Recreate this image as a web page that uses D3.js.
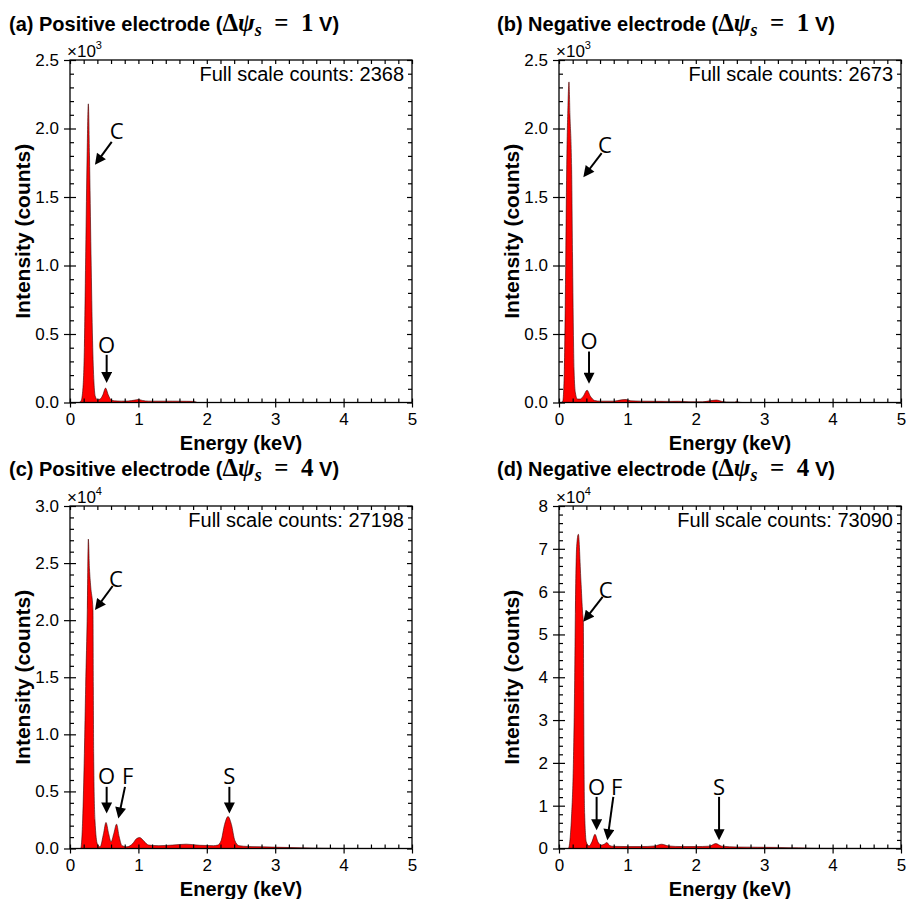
<!DOCTYPE html>
<html>
<head>
<meta charset="utf-8">
<script src="https://cdn.jsdelivr.net/npm/d3@7"></script>
<style>
  body { margin: 0; background: #fff; }
  svg { display: block; }
  text { font-family: "Liberation Sans", Arial, sans-serif; fill: #000; }
</style>
</head>
<body>
<svg width="906" height="899"></svg>
<script>
// ---- data ----
const panelTags = ["(a)", "(b)", "(c)", "(d)"];
const electrodes = ["Positive", "Negative", "Positive", "Negative"];
const voltages = [1, 1, 4, 4];
const fullScale = [2368, 2673, 27198, 73090];
const yMax = [2500, 2500, 30000, 80000];
const yExp = [3, 3, 4, 4];
const yMajorStep = [500, 500, 5000, 10000];
const yMinorStep = [100, 100, 1000, 2000];
const xTicks = [0, 1, 2, 3, 4, 5];

const energyA = [0, 0.13, 0.16, 0.185, 0.21, 0.23, 0.25, 0.268, 0.285, 0.307, 0.33, 0.35, 0.37, 0.40, 0.44, 0.48, 0.52, 0.56, 0.60, 0.65, 0.75, 0.85, 0.95, 1.0, 1.06, 1.15, 1.3, 1.5, 1.7, 1.82, 1.86, 5];
const countsA = [0, 0, 10, 80, 400, 1100, 1800, 2180, 1800, 1090, 450, 150, 45, 20, 25, 55, 105, 55, 20, 12, 10, 11, 18, 22, 15, 10, 10, 10, 9, 8, 0, 0];

const energyB = [0, 0.03, 0.055, 0.078, 0.097, 0.112, 0.13, 0.146, 0.16, 0.185, 0.20, 0.22, 0.24, 0.27, 0.31, 0.36, 0.41, 0.46, 0.52, 0.6, 0.8, 0.92, 0.98, 1.05, 1.2, 1.4, 1.6, 1.75, 1.9, 2.1, 2.2, 2.3, 2.4, 2.5, 2.57, 2.6, 2.63, 2.68, 5];
const countsB = [0, 0, 10, 238, 968, 1698, 2150, 2340, 2100, 1698, 968, 238, 70, 25, 25, 50, 90, 45, 15, 10, 10, 20, 22, 12, 10, 9, 8, 9, 5, 5, 12, 18, 6, 3, 3, 10, 3, 0, 0];

const energyC = [0, 0.13, 0.156, 0.185, 0.21, 0.229, 0.253, 0.268, 0.285, 0.302, 0.336, 0.341, 0.346, 0.365, 0.40, 0.44, 0.49, 0.526, 0.565, 0.60, 0.64, 0.68, 0.72, 0.76, 0.83, 0.92, 0.97, 1.02, 1.08, 1.15, 1.3, 1.5, 1.7, 1.9, 2.1, 2.16, 2.21, 2.26, 2.31, 2.36, 2.41, 2.47, 2.6, 2.8, 3.1, 3.4, 3.7, 4.0, 5];
const countsC = [0, 0, 0, 2500, 8300, 14200, 20900, 27100, 24500, 23000, 20900, 14200, 8300, 2500, 400, 150, 1300, 2280, 1300, 580, 1300, 2130, 1000, 250, 150, 450, 850, 960, 650, 300, 250, 300, 380, 280, 250, 300, 700, 2100, 2800, 2100, 700, 250, 180, 150, 100, 60, 30, 10, 0];

const energyD = [0, 0.10, 0.136, 0.185, 0.21, 0.229, 0.239, 0.258, 0.283, 0.32, 0.346, 0.356, 0.36, 0.366, 0.375, 0.40, 0.44, 0.48, 0.526, 0.57, 0.62, 0.66, 0.70, 0.74, 0.8, 1.0, 1.2, 1.4, 1.5, 1.6, 1.8, 2.0, 2.2, 2.29, 2.38, 2.6, 2.9, 3.2, 3.5, 3.8, 5];
const countsD = [0, 0, 0, 8100, 19800, 39300, 54900, 70500, 73400, 62700, 54900, 53000, 39300, 19800, 8100, 1500, 600, 1500, 3300, 1500, 800, 1000, 1400, 700, 500, 450, 450, 600, 1000, 600, 450, 450, 550, 1150, 550, 350, 300, 250, 150, 50, 0];

const energies = [energyA, energyB, energyC, energyD];
const counts = [countsA, countsB, countsC, countsD];

// peak labels: [element, text keV, text counts, arrow start keV, counts, arrow tip keV, counts]
const peaksA = [["C", 0.682, 1978, 0.61, 1903, 0.365, 1735], ["O", 0.536, 421, 0.536, 348, 0.536, 142]];
const peaksB = [["C", 0.673, 1881, 0.624, 1820, 0.356, 1645], ["O", 0.439, 445, 0.439, 372, 0.439, 136]];
const peaksC = [["C", 0.673, 23576, 0.624, 22990, 0.365, 20885], ["O", 0.536, 6337, 0.536, 5400, 0.536, 3068],
                ["F", 0.843, 6337, 0.804, 5400, 0.707, 2630], ["S", 2.33, 6337, 2.33, 5400, 2.33, 3068]];
const peaksD = [["C", 0.682, 60350, 0.638, 58790, 0.356, 52950], ["O", 0.55, 14400, 0.55, 12060, 0.55, 4280],
                ["F", 0.843, 14400, 0.794, 12060, 0.707, 1940], ["S", 2.34, 14400, 2.34, 12060, 2.34, 1940]];
const peaks = [peaksA, peaksB, peaksC, peaksD];

// ---- layout ----
const svg = d3.select("svg");
const lefts = [70, 559, 70, 559];
const tops = [60, 60, 506, 506];
const titleX = [9, 497, 9, 497];
const titleY = [31, 31, 476, 476];
const plotW = 342, plotH = 342.5;

svg.append("defs").append("marker")
    .attr("id", "head")
    .attr("viewBox", "0 0 10 10")
    .attr("refX", 10).attr("refY", 5)
    .attr("markerWidth", 12).attr("markerHeight", 11)
    .attr("markerUnits", "userSpaceOnUse")
    .attr("orient", "auto")
  .append("path")
    .attr("d", "M0,0L10,5L0,10z")
    .attr("fill", "#000");

panelTags.forEach((_, i) => drawPanel(i));

/////////////HELPERS//////////////////

function drawPanel(i) {
    const left = lefts[i], top = tops[i];
    const x = d3.scaleLinear().domain([0, 5]).range([left, left + plotW]);
    const y = d3.scaleLinear().domain([0, yMax[i]]).range([top + plotH, top]);
    const g = svg.append("g");

    // spectrum
    const pts = energies[i].map((e, k) => [e, counts[i][k]]);
    const area = d3.area()
        .x(d => x(d[0]))
        .y0(y(0))
        .y1(d => y(d[1]))
        .curve(d3.curveMonotoneX);
    g.append("path")
        .datum(pts)
        .attr("d", area)
        .attr("fill", "#ff0000")
        .attr("stroke", "#3a0000")
        .attr("stroke-width", 0.6);

    // axes
    const yMajor = d3.range(0, yMax[i] + 1, yMajorStep[i]);
    const yMinor = d3.range(0, yMax[i] + 1, yMinorStep[i]).filter(v => v % yMajorStep[i] !== 0);
    const xMinor = d3.range(0, 50, 2).map(v => v / 10).filter(v => v % 1 !== 0);
    const fmtY = yMax[i] > 50000
        ? d => String(d / 1e4)
        : d => (d / 10 ** yExp[i]).toFixed(1);

    const bottom = g.append("g").attr("transform", `translate(0,${top + plotH})`);
    bottom.append("g").call(d3.axisBottom(x).tickValues(xTicks).tickSize(5).tickPadding(5).tickFormat(d3.format("d")));
    bottom.append("g").call(d3.axisBottom(x).tickValues(xTicks).tickSize(-4).tickFormat(""));
    bottom.append("g").call(d3.axisBottom(x).tickValues(xMinor).tickSize(-4).tickFormat(""));

    const leftAx = g.append("g").attr("transform", `translate(${left},0)`);
    leftAx.append("g").call(d3.axisLeft(y).tickValues(yMajor).tickSize(6).tickPadding(5).tickFormat(fmtY));
    leftAx.append("g").call(d3.axisLeft(y).tickValues(yMajor).tickSize(-6).tickFormat(""));
    leftAx.append("g").call(d3.axisLeft(y).tickValues(yMinor).tickSize(-4).tickFormat(""));

    const topAx = g.append("g").attr("transform", `translate(0,${top})`);
    topAx.append("g").call(d3.axisTop(x).tickValues(xTicks).tickSize(-4).tickFormat(""));
    topAx.append("g").call(d3.axisTop(x).tickValues(xMinor).tickSize(-4).tickFormat(""));

    const rightAx = g.append("g").attr("transform", `translate(${left + plotW},0)`);
    rightAx.append("g").call(d3.axisRight(y).tickValues(yMajor).tickSize(-5).tickFormat(""));
    rightAx.append("g").call(d3.axisRight(y).tickValues(yMinor).tickSize(-4).tickFormat(""));

    g.selectAll(".domain").remove();
    g.selectAll(".tick line").attr("stroke", "#000").attr("stroke-width", 1.2);
    g.selectAll(".tick text")
        .style("font-family", '"Liberation Sans", Arial, sans-serif')
        .style("font-size", "17px");

    g.append("rect")
        .attr("x", left).attr("y", top)
        .attr("width", plotW).attr("height", plotH)
        .attr("fill", "none")
        .attr("stroke", "#000")
        .attr("stroke-width", 1.3);

    // exponent label
    const ex = g.append("text")
        .attr("x", left - 3)
        .attr("y", top - 3)
        .style("font-size", "17px");
    ex.append("tspan").text("\u00d710");
    ex.append("tspan").attr("dy", -8).style("font-size", "11px").text(yExp[i]);

    // full scale counts
    g.append("text")
        .attr("x", x(5) - 8)
        .attr("y", top + 21)
        .attr("text-anchor", "end")
        .style("font-size", "20px")
        .text("Full scale counts: " + fullScale[i]);

    // axis titles
    g.append("text")
        .attr("x", (x(0) + x(5)) / 2)
        .attr("y", top + plotH + 47)
        .attr("text-anchor", "middle")
        .style("font-size", "20px")
        .style("font-weight", "bold")
        .text("Energy (keV)");
    g.append("text")
        .attr("transform", `translate(${left - 40},${top + plotH / 2}) rotate(-90)`)
        .attr("text-anchor", "middle")
        .style("font-size", "21px")
        .style("font-weight", "bold")
        .text("Intensity (counts)");

    // peak annotations
    peaks[i].forEach(p => {
        const [label, te, tc, se, sc, ee, ec] = p;
        g.append("text")
            .attr("x", x(te)).attr("y", y(tc))
            .attr("dy", "0.36em")
            .attr("text-anchor", "middle")
            .style("font-family", '"Open Sans", "Noto Sans", sans-serif')
            .style("font-size", "22px")
            .text(label);
        const x1 = x(se), y1 = y(sc), x2 = x(ee), y2 = y(ec);
        const len = Math.hypot(x2 - x1, y2 - y1);
        const cut = 3 / len;
        g.append("line")
            .attr("x1", x1).attr("y1", y1)
            .attr("x2", x2 - (x2 - x1) * cut).attr("y2", y2 - (y2 - y1) * cut)
            .attr("stroke", "#000")
            .attr("stroke-width", 2);
        g.append("path")
            .attr("d", `M${x1},${y1}L${x2},${y2}`)
            .attr("stroke", "none")
            .attr("marker-end", "url(#head)");
    });

    // panel title
    const t = svg.append("text")
        .attr("x", titleX[i]).attr("y", titleY[i])
        .style("font-size", "20px")
        .style("font-weight", "bold");
    t.append("tspan").text(`${panelTags[i]} ${electrodes[i]} electrode (`);
    const serif = '"Liberation Serif", "DejaVu Serif", serif';
    t.append("tspan").style("font-family", serif).style("font-size", "25px").text("\u0394");
    t.append("tspan").style("font-family", serif).style("font-size", "25px").style("font-style", "italic").text("\u03c8");
    t.append("tspan").style("font-family", serif).style("font-style", "italic")
        .style("font-size", "18px").attr("dy", 5).text("s");
    t.append("tspan").style("font-family", serif).style("font-size", "25px").attr("dy", -5)
        .text(`\u2002=\u2002${voltages[i]}`);
    t.append("tspan").text(" V)");
}
</script>
</body>
</html>
